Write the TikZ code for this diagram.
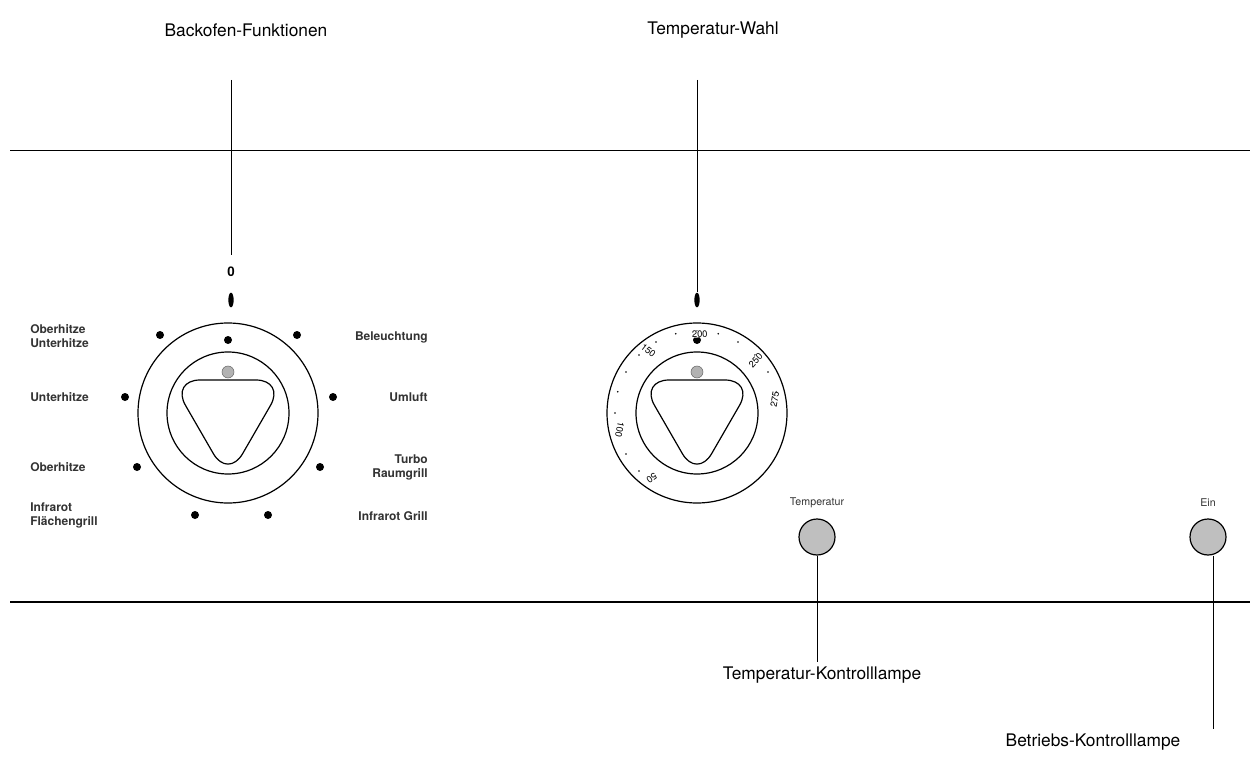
\documentclass[tikz,border=0pt]{standalone}
\usepackage{fontspec}
\setmainfont{TeX Gyre Heros}
\usetikzlibrary{positioning,calc,shapes.geometric}
\tikzset{
  lbl/.style={font=\fontsize{13}{13}\selectfont},
  small/.style={font=\fontsize{9}{10.5}\selectfont\bfseries, text=black!80, inner sep=0pt},
  dot/.style={circle, fill=black, inner sep=0pt, minimum size=6pt},
  tickmark/.style={ellipse, fill=black, inner sep=0pt, minimum width=4pt, minimum height=11pt},
  lamp/.style={circle, draw, fill=black!25, line width=0.9pt, minimum size=27pt, inner sep=0pt},
  num/.style={font=\fontsize{7}{7}\selectfont, inner sep=0pt}
}
\begin{document}
\begin{tikzpicture}[x=0.75pt,y=0.75pt,yscale=-1,xscale=1]
\useasboundingbox (0,0) rectangle (1256,759);

% Panel lines
\draw [line width=0.6pt] (10,150) -- (1250,150) ;
\draw [line width=1.2pt] (10,602) -- (1250,602) ;

% Text Node
\node [lbl] (funk) at (246,30) {Backofen-Funktionen};
\node [lbl] (temp) at (713,30) {Temperatur-Wahl};

%Knob left
\coordinate (k1) at (228,413);
\draw [line width=0.9pt] (k1) circle (90) ;
\draw [line width=0.9pt] (k1) circle (61) ;
\draw [line width=0.9pt, rounded corners=22pt] ($(k1)+(90:66)$) -- ($(k1)+(210:66)$) -- ($(k1)+(330:66)$) -- cycle ;
\node [circle, draw=black!60, fill=black!30, minimum size=9pt, inner sep=0pt] at (228,372) {};
\node [dot] (p0) at (228,340) {};
\node [tickmark] (m1) at (231,300) {};
\node [font=\fontsize{10}{10}\selectfont\bfseries] (null) at (231,272) {0};
\draw (231,80) -- (null.north |- 0,255) ;
\foreach \x/\y in {160/335, 297/335, 125/397, 333/397, 137/467, 320/467, 195/515, 268/515}
  \node [dot] at (\x,\y) {};

% Text Node
\node [small, align=left, anchor=west] (ou) at (30,336) {Oberhitze\\Unterhitze};
\node [small, anchor=west] (uh) at (30,397) {Unterhitze};
\node [small, anchor=west] (oh) at (30,467) {Oberhitze};
\node [small, align=left, anchor=west] (ifg) at (30,515) {Infrarot\\Flächengrill};
\node [small, anchor=east] (bel) at (428,337) {Beleuchtung};
\node [small, anchor=east] (uml) at (428,397) {Umluft};
\node [small, align=right, anchor=east] (trg) at (428,467) {Turbo\\Raumgrill};
\node [small, anchor=east] (ig) at (428,516) {Infrarot Grill};

%Knob right
\coordinate (k2) at (697,413);
\draw [line width=0.9pt] (k2) circle (90) ;
\draw [line width=0.9pt] (k2) circle (61) ;
\draw [line width=0.9pt, rounded corners=22pt] ($(k2)+(90:66)$) -- ($(k2)+(210:66)$) -- ($(k2)+(330:66)$) -- cycle ;
\node [circle, draw=black!60, fill=black!30, minimum size=9pt, inner sep=0pt] at (697,372) {};
\node [dot] at (697,340) {};
\node [tickmark] (m2) at (697,300) {};
\draw (697,80) -- (m2.north) ;
\foreach \a in {135,150,...,345}
  \fill ($(k2)+(\a:82)$) circle (0.9);
\foreach \a/\t in {125/50, 168/100, 232/150, 272/200, 318/250, 350/275}
  \node [num, fill=white, rotate=\a+90] at ($(k2)+(\a:79)$) {\t};

% Lamps
\node [small, font=\fontsize{8}{8}\selectfont] (tl) at (817,503) {Temperatur};
\node [lamp] (l1) at (817,537) {};
\node [small, font=\fontsize{8}{8}\selectfont] (el) at (1208,503) {Ein};
\node [lamp] (l2) at (1208,537) {};
\node [lbl] (tkl) at (822,675) {Temperatur-Kontrolllampe};
\node [lbl] (bkl) at (1093,742) {Betriebs-Kontrolllampe};
\draw (l1.south) -- (l1.south |- tkl.north) ;
\coordinate (l2s) at ($(l2.south)+(5,0)$) ;
\draw (l2s) -- (l2s |- bkl.north) ;

\end{tikzpicture}
\end{document}
